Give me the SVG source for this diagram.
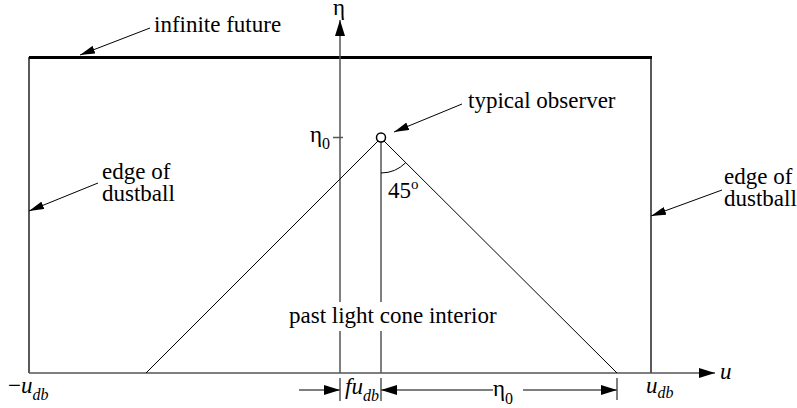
<svg xmlns="http://www.w3.org/2000/svg" width="797" height="408" viewBox="0 0 797 408">
<style>
text{font-family:'Liberation Serif','Times New Roman',Times,'DejaVu Serif',serif;font-size:23px;fill:#000}
.it{font-style:italic}
.sub{font-size:16px}
.ax{stroke:#555;stroke-width:1.5;fill:none}
.ln{stroke:#000;stroke-width:1;fill:none}
.bx{stroke:#000;stroke-width:1.3;fill:none}
</style>
<defs>
<marker id="ah" markerUnits="userSpaceOnUse" markerWidth="16" markerHeight="10" refX="16" refY="5" orient="auto">
<path d="M0,0 L16,5 L0,10 z" fill="#000"/>
</marker>
<marker id="la" markerUnits="userSpaceOnUse" markerWidth="15" markerHeight="8" refX="15" refY="4" orient="auto">
<path d="M0,0 L15,4 L0,8 z" fill="#000"/>
</marker>
</defs>
<rect width="797" height="408" fill="#fff"/>
<g id="frame">
<line x1="29" y1="57.5" x2="652" y2="57.5" stroke="#000" stroke-width="3"/>
<line class="bx" x1="29" y1="57" x2="29" y2="373"/>
<line class="bx" x1="651" y1="57" x2="651" y2="373"/>
</g>
<g id="axes">
<line class="ax" x1="340" y1="373" x2="340" y2="20" marker-end="url(#ah)"/>
<line class="ax" x1="29" y1="373" x2="715" y2="373" marker-end="url(#ah)"/>
<line class="ax" x1="333" y1="137.5" x2="343" y2="137.5"/>
</g>
<g id="cone">
<line class="ln" x1="378" y1="141" x2="146" y2="373"/>
<line class="ln" x1="384" y1="141" x2="617" y2="373"/>
<line class="ax" x1="381" y1="142" x2="381" y2="373"/>
<path class="ln" d="M381,173 A35,35 0 0 0 405.7,162.7"/>
</g>
<g id="observer">
<circle cx="381" cy="137.5" r="4.5" fill="#fff" stroke="#000" stroke-width="1.5"/>
</g>
<g id="connectors">
<line class="ln" x1="150" y1="28" x2="80" y2="55" marker-end="url(#la)"/>
<line class="ln" x1="462" y1="104" x2="394" y2="132" marker-end="url(#la)"/>
<line class="ln" x1="98" y1="183" x2="29" y2="211" marker-end="url(#la)"/>
<line class="ln" x1="722" y1="190" x2="651" y2="216" marker-end="url(#la)"/>
</g>
<g id="dimensions">
<line class="ax" x1="340" y1="378" x2="340" y2="401"/>
<line class="ax" x1="381" y1="378" x2="381" y2="401"/>
<line class="ax" x1="617" y1="378" x2="617" y2="400"/>
<line class="ax" x1="299" y1="390" x2="340" y2="390" marker-end="url(#ah)"/>
<line class="ax" x1="493" y1="390" x2="381" y2="390" marker-end="url(#ah)"/>
<line class="ax" x1="523" y1="390" x2="617" y2="390" marker-end="url(#ah)"/>
</g>
<g id="label-infinite-future"><text x="154" y="32">infinite future</text></g>
<g id="label-typical-observer"><text x="468" y="108">typical observer</text></g>
<g id="label-edge-left"><text x="102" y="179">edge of<tspan x="102" dy="22">dustball</tspan></text></g>
<g id="label-edge-right"><text x="724" y="184">edge of<tspan x="724" dy="22">dustball</tspan></text></g>
<g id="label-interior">
<rect x="287" y="302" width="213" height="29" fill="#fff"/>
<text x="289" y="323">past light cone interior</text>
</g>
<g id="label-angle"><text x="388" y="198">45<tspan font-size="15" dy="-9">o</tspan></text></g>
<g id="label-eta"><text x="333" y="15">η</text></g>
<g id="label-eta0"><text x="310" y="142">η<tspan class="sub" dy="7">0</tspan></text></g>
<g id="label-eta0-dim"><text x="493" y="396">η<tspan class="sub" dy="8">0</tspan></text></g>
<g id="label-minus-udb"><text x="8" y="393">−<tspan class="it">u</tspan><tspan class="it sub" dy="7">db</tspan></text></g>
<g id="label-udb"><text x="646" y="393" class="it">u<tspan class="sub" dy="5">db</tspan></text></g>
<g id="label-fudb"><text x="345" y="394" class="it">fu<tspan class="sub" dy="7">db</tspan></text></g>
<g id="label-u"><text x="720" y="379" class="it">u</text></g>
</svg>
